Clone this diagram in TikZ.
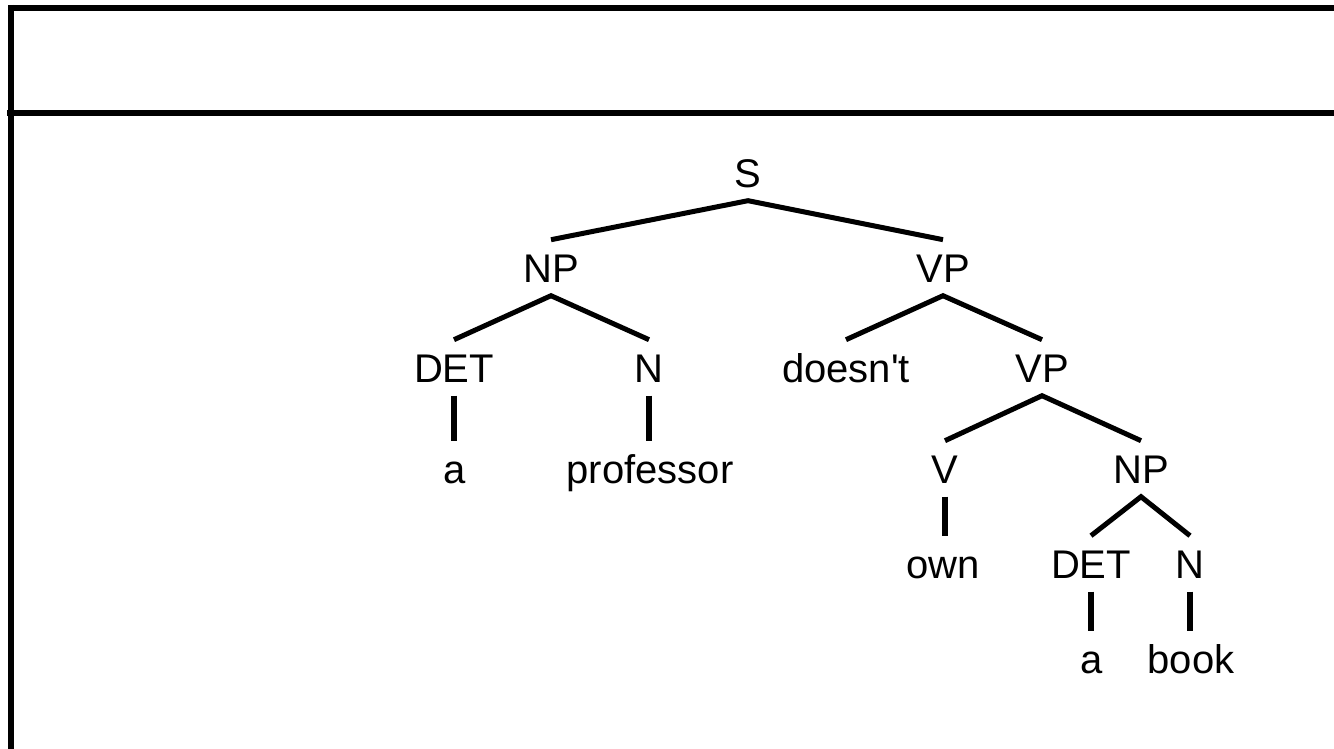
\documentclass[tikz,border=0pt]{standalone}
\usepackage{fontspec}
% plain family: keeps the straight apostrophe as typed
\newfontfamily\lblfont{Liberation Sans}
\begin{document}
\begin{tikzpicture}[x=1pt,y=-1pt,
  lbl/.style={font=\lblfont\fontsize{40}{48}\selectfont, anchor=base, inner xsep=2pt,
              inner ysep=13.5pt, text height=28.6pt, text depth=0pt},
  branch/.style={line width=5pt},
  unary/.style={line width=6pt},
  frame/.style={line width=6pt}]
\useasboundingbox (0,0) rectangle (1334,749);
% window frame
\draw[frame] (8,8) -- (1334,8);
\draw[frame] (11,5) -- (11,749);
\draw[frame] (7,113) -- (1334,113);

% labels
\node[lbl] (s)    at (748,187) {S};
\node[lbl] (np1)  at (551,282) {NP};
\node[lbl] (vp1)  at (943,282) {VP};
\node[lbl] (det1) at (454,382) {DET};
\node[lbl] (n1)   at (649,382) {N};
\node[lbl] (neg)  at (846,382) {doesn't};
\node[lbl] (vp2)  at (1042,382) {VP};
\node[lbl] (a1)   at (455,483) {a};
\node[lbl] (prof) at (650,483) {professor};
\node[lbl] (v)    at (945,483) {V};
\node[lbl] (np2)  at (1141,483) {NP};
\node[lbl] (own)  at (943,578) {own};
\node[lbl] (det2) at (1091,578) {DET};
\node[lbl] (n2)   at (1190,578) {N};
\node[lbl] (a2)   at (1092,673) {a};
\node[lbl] (book) at (1191,673) {book};

% branches
\draw[branch] (np1.north) -- (s.south) -- (vp1.north);
\draw[branch] (det1.north) -- (np1.south) -- (n1.north);
\draw[branch] (neg.north) -- (vp1.south) -- (vp2.north);
\draw[branch] (v.north) -- (vp2.south) -- (np2.north);
\draw[branch] (det2.north) -- (np2.south) -- (n2.north);
% unary branches
\draw[unary] (det1.south) -- (det1.south |- a1.north);
\draw[unary] (n1.south) -- (n1.south |- prof.north);
\draw[unary] (v.south) -- (v.south |- own.north);
\draw[unary] (det2.south) -- (det2.south |- a2.north);
\draw[unary] (n2.south) -- (n2.south |- book.north);
\end{tikzpicture}
\end{document}
